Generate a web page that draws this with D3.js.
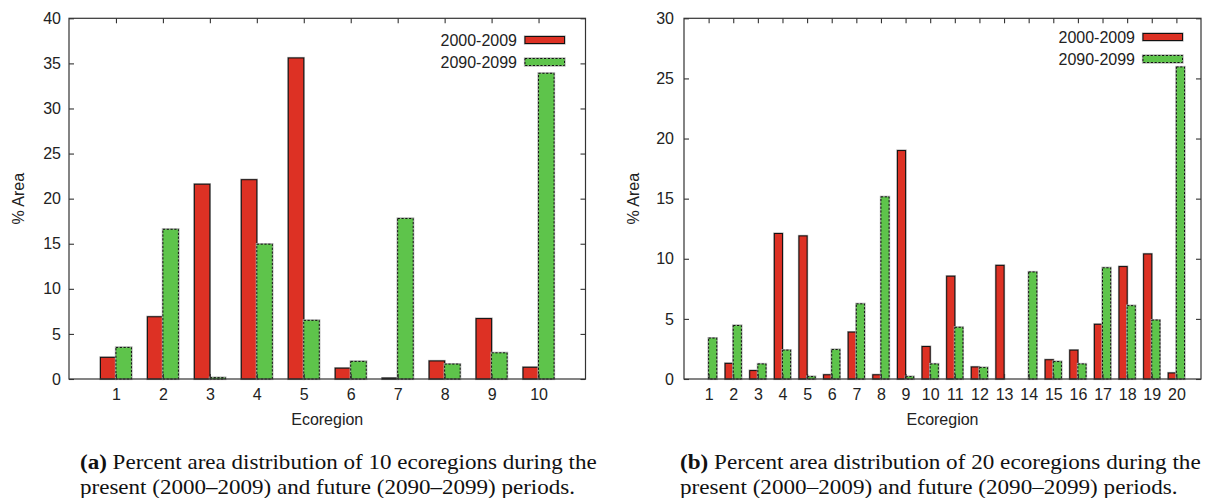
<!DOCTYPE html>
<html><head><meta charset="utf-8">
<script src="https://cdn.jsdelivr.net/npm/d3@7"></script>
<style>
html,body{margin:0;padding:0;background:#fff;}
svg{display:block;}
</style></head>
<body>
<svg id="chart" width="1205" height="498"></svg>
<script>
// ---------- data ----------
const seriesNames = ["2000-2009", "2090-2099"];
const catsA = [1,2,3,4,5,6,7,8,9,10];
const presentA = [2.4, 6.9, 21.6, 22.1, 35.6, 1.2, 0.1, 2.0, 6.7, 1.3];
const futureA  = [3.5, 16.6, 0.15, 14.95, 6.5, 1.95, 17.8, 1.65, 2.9, 33.9];
const yTicksA = [0,5,10,15,20,25,30,35,40];

const catsB = [1,2,3,4,5,6,7,8,9,10,11,12,13,14,15,16,17,18,19,20];
const presentB = [0, 1.3, 0.7, 12.1, 11.9, 0.35, 3.9, 0.35, 19.0, 2.7, 8.55, 1.0, 9.45, 0, 1.6, 2.4, 4.55, 9.35, 10.4, 0.5];
const futureB  = [3.4, 4.45, 1.25, 2.4, 0.2, 2.45, 6.25, 15.15, 0.2, 1.25, 4.3, 0.95, 0, 8.9, 1.45, 1.25, 9.25, 6.1, 4.9, 25.95];
const yTicksB = [0,5,10,15,20,25,30];

const captionA = ["(a)", " Percent area distribution of 10 ecoregions during the", "present (2000\u20132009) and future (2090\u20132099) periods."];
const captionB = ["(b)", " Percent area distribution of 20 ecoregions during the", "present (2000\u20132009) and future (2090\u20132099) periods."];

const RED = "#dd3124", GREEN = "#5ec44b", AXIS = "#333";
const SANS = "'Liberation Sans', Arial, sans-serif";
const SERIF = "'Liberation Serif', 'Times New Roman', serif";
const FS = 16;

const svg = d3.select("#chart");

function panel(opt){
  const g = svg.append("g");
  const x = d3.scaleLinear().domain([0, opt.cats.length + 1]).range([opt.x0, opt.x1]);
  const y = d3.scaleLinear().domain([0, opt.yMax]).range([opt.y1, opt.y0]);
  const bw = 0.33;

  // bars
  const data = [];
  opt.cats.forEach((c,i)=>{
    data.push({c, v: opt.present[i], s:0});
    data.push({c, v: opt.future[i], s:1});
  });
  const bars = g.append("g");
  data.filter(d=>d.v>0).forEach(d=>{
    const xl = d.s===0 ? x(d.c - bw) : x(d.c);
    const w = x(d.c + bw) - x(d.c);
    const yt = y(d.v), h = y(0) - y(d.v);
    bars.append("rect").attr("x", xl).attr("y", yt).attr("width", w).attr("height", h)
      .attr("fill", "none").attr("stroke", "#aaa").attr("stroke-width", 2.2);
    bars.append("rect").attr("x", xl).attr("y", yt).attr("width", w).attr("height", h)
      .attr("fill", d.s===0 ? RED : GREEN)
      .attr("stroke", "#111").attr("stroke-width", 1)
      .attr("stroke-dasharray", d.s===0 ? null : "2.2,1.6");
  });

  // frame
  g.append("rect").attr("x", opt.x0).attr("y", opt.y0)
    .attr("width", opt.x1-opt.x0).attr("height", opt.y1-opt.y0)
    .attr("fill","none").attr("stroke", AXIS).attr("stroke-width", 1.2);

  // axes (ticks inward)
  const tl = 5;
  const axL = g.append("g").attr("transform", `translate(${opt.x0},0)`)
    .call(d3.axisLeft(y).tickValues(opt.yTicks).tickSize(-tl).tickPadding(opt.yPad).tickFormat(d3.format("d")));
  const axR = g.append("g").attr("transform", `translate(${opt.x1},0)`)
    .call(d3.axisRight(y).tickValues(opt.yTicks).tickSize(-tl).tickFormat(""));
  const axB = g.append("g").attr("transform", `translate(0,${opt.y1})`)
    .call(d3.axisBottom(x).tickValues(opt.cats).tickSize(-tl).tickPadding(10).tickFormat(d3.format("d")));
  const axT = g.append("g").attr("transform", `translate(0,${opt.y0})`)
    .call(d3.axisTop(x).tickValues(opt.cats).tickSize(-tl).tickFormat(""));
  [axL, axR, axB, axT].forEach(a=>{
    a.select(".domain").remove();
    a.selectAll(".tick line").attr("stroke", AXIS).attr("stroke-width", 1.1);
    a.selectAll("text").attr("font-family", SANS).attr("font-size", FS).attr("fill", "#222");
  });

  // axis titles
  g.append("text").attr("transform", `translate(${opt.ylabX},${(opt.y0+opt.y1)/2}) rotate(-90)`)
    .attr("text-anchor","middle").attr("dominant-baseline","central")
    .attr("font-family", SANS).attr("font-size", FS).attr("fill","#222").text("% Area");
  g.append("text").attr("x", (opt.x0+opt.x1)/2).attr("y", 425)
    .attr("text-anchor","middle")
    .attr("font-family", SANS).attr("font-size", FS).attr("fill","#222").text("Ecoregion");

  // legend
  seriesNames.forEach((n,i)=>{
    const cy = opt.legY + i*22;
    g.append("text").attr("x", opt.legX - 8).attr("y", cy).attr("dominant-baseline","central")
      .attr("text-anchor","end").attr("font-family", SANS).attr("font-size", FS).attr("fill","#222").text(n);
    g.append("rect").attr("x", opt.legX).attr("y", cy-3.5).attr("width", 39.5).attr("height", 7)
      .attr("fill","none").attr("stroke","#aaa").attr("stroke-width",2.2);
    g.append("rect").attr("x", opt.legX).attr("y", cy-3.5).attr("width", 39.5).attr("height", 7)
      .attr("fill", i===0 ? RED : GREEN).attr("stroke","#111").attr("stroke-width",1)
      .attr("stroke-dasharray", i===0 ? null : "2.2,1.6");
  });

  // caption (stretched horizontally to the reference line width)
  const cg = g.append("g");
  const t1 = cg.append("text").attr("x", 0).attr("y", 469)
    .attr("font-family", SERIF).attr("font-size", 20).attr("fill","#111");
  t1.append("tspan").attr("font-weight","bold").text(opt.caption[0]);
  t1.append("tspan").text(opt.caption[1]);
  cg.append("text").attr("x", 0).attr("y", 494)
    .attr("font-family", SERIF).attr("font-size", 20).attr("fill","#111").text(opt.caption[2]);
  const natural = t1.node().getComputedTextLength();
  const sx = opt.capW / natural;
  cg.attr("transform", `translate(${opt.capX},0) scale(${sx},1)`);
}

panel({cats: catsA, present: presentA, future: futureA, yMax: 40, yTicks: yTicksA,
  x0: 69, x1: 585.5, y0: 18.3, y1: 379, yPad: 8, ylabX: 18, legX: 525, legY: 40,
  capX: 80, capW: 517, caption: captionA});
panel({cats: catsB, present: presentB, future: futureB, yMax: 30, yTicks: yTicksB,
  x0: 684, x1: 1201, y0: 18.3, y1: 379, yPad: 10, ylabX: 633, legX: 1143, legY: 37,
  capX: 680, capW: 521, caption: captionB});
</script>
</body></html>
